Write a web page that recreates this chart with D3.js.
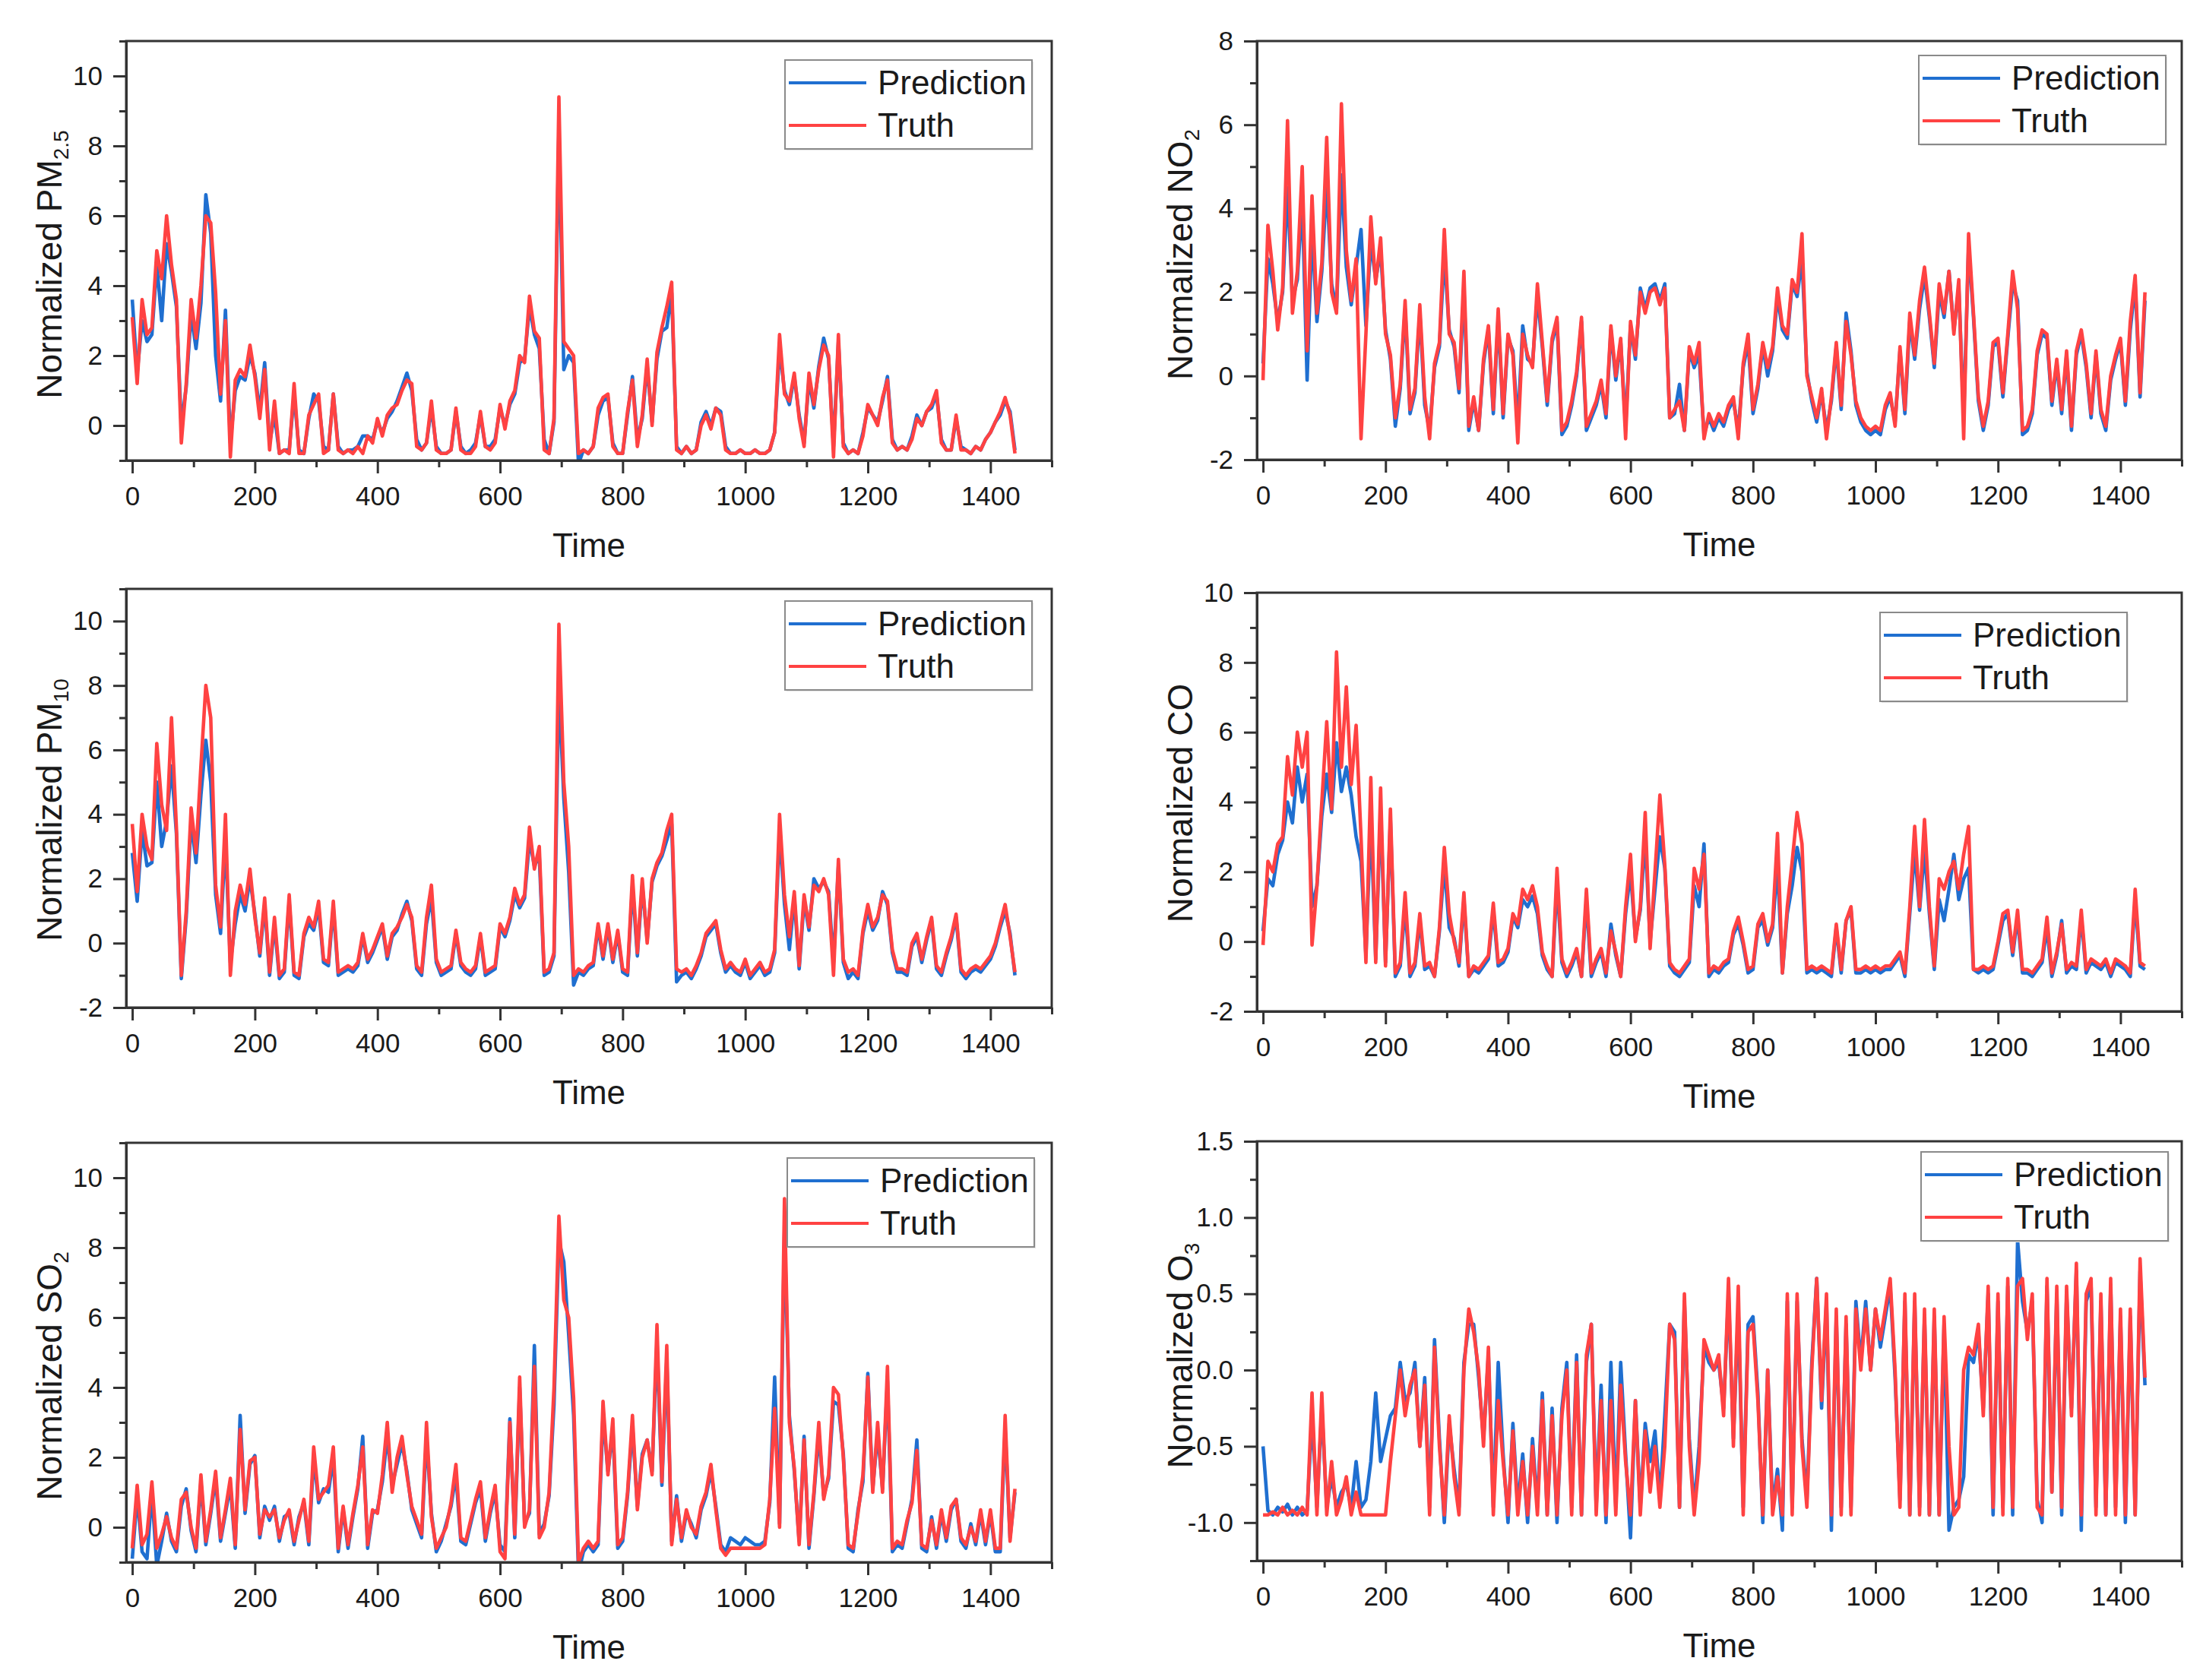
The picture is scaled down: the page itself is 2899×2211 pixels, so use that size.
<!DOCTYPE html>
<html><head><meta charset="utf-8">
<script src="https://cdn.jsdelivr.net/npm/d3@7/dist/d3.min.js"></script>
<style>html,body{margin:0;padding:0;background:#fff;} svg{display:block;}</style>
</head><body>
<svg id="chart" width="2899" height="2211"></svg>
<script>
// ---------- data (time step between samples) ----------
const STEP = 8;
const xMajorTicks = [0, 200, 400, 600, 800, 1000, 1200, 1400];
const xMinorTicks = [100, 300, 500, 700, 900, 1100, 1300, 1500];
const seriesNames = ["Prediction", "Truth"];

const pm25Truth = [
 3.1, 1.2, 3.6, 2.6, 2.8, 5.0, 4.2, 6.0, 4.6, 3.6,
 -0.5, 1.2, 3.6, 2.5, 4.0, 6.0, 5.8, 3.8, 0.9, 3.0,
 -0.9, 1.3, 1.6, 1.4, 2.3, 1.4, 0.2, 1.6, -0.7, 0.7,
 -0.8, -0.7, -0.8, 1.2, -0.8, -0.8, 0.3, 0.6, 0.9, -0.8,
 -0.7, 0.9, -0.7, -0.8, -0.7, -0.8, -0.6, -0.8, -0.3, -0.5,
 0.2, -0.3, 0.3, 0.5, 0.6, 1.0, 1.3, 1.2, -0.6, -0.7,
 -0.5, 0.7, -0.7, -0.8, -0.8, -0.7, 0.5, -0.7, -0.8, -0.8,
 -0.6, 0.4, -0.6, -0.7, -0.5, 0.6, -0.1, 0.7, 1.0, 2.0,
 1.8, 3.7, 2.7, 2.5, -0.7, -0.8, 0.2, 9.4, 2.4, 2.2,
 2.0, -0.8, -0.7, -0.8, -0.6, 0.5, 0.8, 0.9, -0.6, -0.8,
 -0.8, 0.4, 1.3, -0.6, 0.3, 1.9, 0.0, 2.1, 2.8, 3.4,
 4.1, -0.7, -0.8, -0.6, -0.8, -0.7, 0.0, 0.3, -0.1, 0.5,
 0.3, -0.7, -0.8, -0.8, -0.7, -0.8, -0.8, -0.7, -0.8, -0.8,
 -0.7, -0.2, 2.6, 0.9, 0.7, 1.5, 0.2, -0.6, 1.5, 0.6,
 1.6, 2.3, 2.0, -0.9, 2.6, -0.6, -0.8, -0.7, -0.8, -0.3,
 0.6, 0.3, 0.0, 0.8, 1.3, -0.5, -0.7, -0.6, -0.7, -0.4,
 0.2, 0.0, 0.4, 0.6, 1.0, -0.5, -0.7, -0.7, 0.3, -0.7,
 -0.7, -0.8, -0.6, -0.7, -0.4, -0.2, 0.1, 0.4, 0.8, 0.3,
 -0.8
];
const pm25Pred = [
 3.6, 1.5, 3.0, 2.4, 2.6, 4.6, 3.0, 5.2, 4.4, 3.4,
 0.0, 1.1, 3.2, 2.2, 3.5, 6.6, 5.5, 2.0, 0.7, 3.3,
 -0.5, 1.0, 1.4, 1.3, 2.0, 1.5, 0.4, 1.8, -0.5, 0.3,
 -0.8, -0.7, -0.7, 0.9, -0.7, -0.8, 0.2, 0.9, 0.7, -0.6,
 -0.7, 0.9, -0.6, -0.8, -0.7, -0.7, -0.6, -0.3, -0.3, -0.4,
 0.1, -0.2, 0.2, 0.4, 0.7, 1.1, 1.5, 1.0, -0.4, -0.7,
 -0.5, 0.5, -0.6, -0.8, -0.8, -0.7, 0.4, -0.6, -0.8, -0.7,
 -0.5, 0.3, -0.6, -0.6, -0.4, 0.5, 0.0, 0.6, 0.9, 1.8,
 1.9, 3.4, 2.6, 2.2, -0.4, -0.8, 0.1, 8.5, 1.6, 2.0,
 1.8, -1.1, -0.7, -0.8, -0.6, 0.3, 0.7, 0.8, -0.5, -0.8,
 -0.8, 0.3, 1.4, -0.4, 0.2, 1.7, 0.1, 1.9, 2.7, 2.8,
 3.8, -0.6, -0.8, -0.6, -0.8, -0.7, 0.1, 0.4, 0.0, 0.5,
 0.4, -0.6, -0.8, -0.8, -0.7, -0.8, -0.8, -0.7, -0.8, -0.8,
 -0.7, -0.2, 2.2, 1.0, 0.6, 1.4, 0.3, -0.5, 1.3, 0.5,
 1.7, 2.5, 1.9, -0.6, 2.4, -0.5, -0.8, -0.7, -0.8, -0.2,
 0.5, 0.3, 0.1, 0.7, 1.4, -0.4, -0.7, -0.6, -0.7, -0.3,
 0.3, 0.0, 0.4, 0.5, 0.9, -0.4, -0.7, -0.7, 0.2, -0.6,
 -0.7, -0.8, -0.6, -0.7, -0.4, -0.2, 0.1, 0.3, 0.7, 0.4,
 -0.7
];

const no2Truth = [
 -0.1, 3.6, 2.5, 1.1, 2.1, 6.1, 1.5, 2.5, 5.0, 0.6,
 4.3, 1.5, 2.7, 5.7, 2.0, 1.5, 6.5, 3.0, 1.8, 2.8,
 -1.5, 1.0, 3.8, 2.2, 3.3, 1.0, 0.5, -1.0, -0.2, 1.8,
 -0.8, -0.3, 1.7, -0.5, -1.5, 0.3, 0.8, 3.5, 1.0, 0.8,
 -0.3, 2.5, -1.2, -0.5, -1.3, 0.4, 1.2, -0.8, 1.6, -0.9,
 1.0, 0.5, -1.6, 1.0, 0.5, 0.2, 2.2, 0.8, -0.6, 0.9,
 1.4, -1.3, -1.1, -0.6, 0.1, 1.4, -1.2, -0.9, -0.6, -0.1,
 -0.9, 1.2, 0.0, 0.9, -1.5, 1.3, 0.5, 2.0, 1.5, 2.0,
 2.1, 1.7, 2.1, -1.0, -0.8, -0.6, -1.3, 0.7, 0.3, 0.8,
 -1.5, -0.9, -1.2, -0.9, -1.1, -0.7, -0.5, -1.5, 0.3, 1.0,
 -0.8, -0.2, 0.8, 0.2, 0.7, 2.1, 1.2, 1.0, 2.3, 2.0,
 3.4, 0.0, -0.5, -1.0, -0.3, -1.5, -0.5, 0.8, -0.7, 1.3,
 0.5, -0.6, -1.0, -1.2, -1.3, -1.2, -1.3, -0.7, -0.4, -1.2,
 0.7, -0.8, 1.5, 0.5, 1.8, 2.6, 1.5, 0.3, 2.2, 1.5,
 2.5, 1.0, 2.3, -1.5, 3.4, 1.5, -0.5, -1.2, -0.6, 0.8,
 0.9, -0.4, 1.0, 2.5, 1.6, -1.3, -1.2, -0.8, 0.6, 1.1,
 1.0, -0.6, 0.4, -0.8, 0.6, -1.2, 0.6, 1.1, 0.3, -0.9,
 0.6, -0.8, -1.2, 0.0, 0.5, 0.9, -0.6, 1.3, 2.4, -0.4,
 2.0
];
const no2Pred = [
 0.3, 2.8, 2.2, 1.3, 2.0, 4.5, 1.8, 2.3, 4.2, -0.1,
 3.5, 1.3, 2.5, 4.6, 2.2, 1.6, 4.8, 2.6, 1.7, 2.6,
 3.5, 1.2, 3.2, 2.3, 3.0, 1.1, 0.4, -1.2, -0.3, 1.6,
 -0.9, -0.4, 1.5, -0.7, -1.3, 0.2, 0.7, 2.9, 1.1, 0.7,
 -0.4, 2.1, -1.3, -0.6, -1.3, 0.3, 1.1, -0.9, 1.4, -1.0,
 0.9, 0.6, -1.2, 1.2, 0.4, 0.3, 1.9, 0.7, -0.7, 0.8,
 1.3, -1.4, -1.2, -0.7, 0.0, 1.3, -1.3, -1.0, -0.7, -0.2,
 -1.0, 1.1, -0.1, 0.8, -1.2, 1.2, 0.4, 2.1, 1.6, 2.1,
 2.2, 1.8, 2.2, -1.0, -0.9, -0.2, -1.3, 0.6, 0.2, 0.5,
 -1.4, -1.0, -1.3, -1.0, -1.2, -0.8, -0.6, -1.3, 0.2, 0.8,
 -0.9, -0.3, 0.7, 0.0, 0.6, 1.9, 1.1, 0.9, 2.2, 1.9,
 2.8, 0.1, -0.6, -1.1, -0.4, -1.3, -0.6, 0.7, -0.8, 1.5,
 0.6, -0.7, -1.1, -1.3, -1.4, -1.3, -1.4, -0.8, -0.5, -1.1,
 0.6, -0.9, 1.3, 0.4, 1.6, 2.4, 1.4, 0.2, 2.0, 1.4,
 2.5, 1.1, 2.1, -1.0, 3.1, 1.4, -0.6, -1.3, -0.7, 0.7,
 0.8, -0.5, 0.9, 2.2, 1.8, -1.4, -1.3, -0.9, 0.5, 1.0,
 0.9, -0.7, 0.3, -0.9, 0.5, -1.3, 0.5, 1.0, 0.2, -1.0,
 0.5, -0.9, -1.3, -0.1, 0.4, 0.8, -0.7, 1.1, 2.2, -0.5,
 1.8
];

const pm10Truth = [
 3.7, 1.6, 4.0, 3.0, 2.6, 6.2, 4.3, 3.5, 7.0, 3.6,
 -1.0, 1.0, 4.2, 2.8, 5.5, 8.0, 7.0, 1.8, 0.5, 4.0,
 -1.0, 1.0, 1.8, 1.2, 2.3, 0.8, -0.3, 1.4, -0.9, 0.8,
 -1.0, -0.8, 1.5, -0.9, -1.0, 0.3, 0.8, 0.5, 1.3, -0.5,
 -0.6, 1.3, -0.9, -0.8, -0.7, -0.8, -0.6, 0.3, -0.5, -0.2,
 0.2, 0.6, -0.4, 0.3, 0.5, 0.8, 1.2, 0.8, -0.7, -0.9,
 0.8, 1.8, -0.5, -0.9, -0.8, -0.7, 0.4, -0.6, -0.8, -0.9,
 -0.7, 0.3, -0.9, -0.8, -0.7, 0.6, 0.3, 0.8, 1.7, 1.2,
 1.5, 3.6, 2.3, 3.0, -0.9, -0.8, -0.3, 9.9, 5.0, 3.0,
 -1.0, -0.8, -0.9, -0.7, -0.6, 0.6, -0.4, 0.6, -0.5, 0.4,
 -0.8, -0.9, 2.1, -0.3, 2.0, 0.0, 2.0, 2.5, 2.8, 3.5,
 4.0, -0.8, -0.9, -0.8, -1.0, -0.7, -0.3, 0.3, 0.5, 0.7,
 -0.2, -0.8, -0.6, -0.8, -0.9, -0.5, -1.0, -0.8, -0.6, -0.9,
 -0.8, -0.2, 4.0, 1.5, 0.2, 1.6, -0.7, 1.5, 0.5, 1.8,
 1.6, 2.0, 1.5, -1.0, 2.6, -0.5, -0.9, -0.8, -1.0, 0.4,
 1.2, 0.5, 0.8, 1.5, 1.3, -0.2, -0.8, -0.8, -0.9, 0.0,
 0.3, -0.5, 0.2, 0.8, -0.7, -0.9, -0.3, 0.2, 0.9, -0.8,
 -1.0, -0.8, -0.7, -0.8, -0.6, -0.4, 0.0, 0.6, 1.2, 0.2,
 -0.9
];
const pm10Pred = [
 2.8, 1.3, 3.5, 2.4, 2.5, 5.0, 3.0, 3.8, 5.5, 3.4,
 -1.1, 0.8, 3.8, 2.5, 4.6, 6.3, 5.0, 1.5, 0.3, 3.2,
 -0.6, 0.6, 1.5, 1.0, 2.0, 0.9, -0.4, 1.2, -1.0, 0.6,
 -1.1, -0.9, 1.3, -1.0, -1.1, 0.2, 0.6, 0.4, 1.1, -0.6,
 -0.7, 1.1, -1.0, -0.9, -0.8, -0.9, -0.7, 0.2, -0.6, -0.3,
 0.1, 0.5, -0.5, 0.2, 0.4, 0.9, 1.3, 0.7, -0.8, -1.0,
 0.6, 1.4, -0.6, -1.0, -0.9, -0.8, 0.3, -0.7, -0.9, -1.0,
 -0.8, 0.2, -1.0, -0.9, -0.8, 0.5, 0.2, 0.7, 1.5, 1.1,
 1.4, 3.2, 2.4, 2.7, -1.0, -0.9, -0.4, 8.0, 4.5, 2.2,
 -1.3, -0.9, -1.0, -0.8, -0.7, 0.5, -0.5, 0.5, -0.6, 0.3,
 -0.9, -1.0, 1.8, -0.4, 1.8, 0.1, 1.9, 2.4, 2.7, 3.2,
 3.7, -1.2, -1.0, -0.9, -1.1, -0.8, -0.4, 0.2, 0.4, 0.6,
 -0.3, -0.9, -0.7, -0.9, -1.0, -0.6, -1.1, -0.9, -0.7, -1.0,
 -0.9, -0.3, 3.5, 1.2, -0.2, 1.4, -0.8, 1.3, 0.4, 2.0,
 1.7, 1.9, 1.6, -0.6, 2.4, -0.6, -1.1, -0.9, -1.1, 0.3,
 1.0, 0.4, 0.7, 1.6, 1.2, -0.3, -0.9, -0.9, -1.0, -0.1,
 0.2, -0.6, 0.1, 0.7, -0.8, -1.0, -0.4, 0.1, 0.8, -0.9,
 -1.1, -0.9, -0.8, -0.9, -0.7, -0.5, -0.1, 0.5, 1.0, 0.3,
 -1.0
];

const coTruth = [
 -0.1, 2.3, 2.0, 2.8, 3.0, 5.3, 4.2, 6.0, 5.0, 6.0,
 -0.1, 1.6, 4.0, 6.3, 3.8, 8.3, 5.0, 7.3, 4.5, 6.2,
 3.0, -0.6, 4.7, -0.6, 4.4, -0.7, 3.8, -0.9, -0.6, 1.4,
 -0.9, -0.6, 0.8, -0.7, -0.6, -1.0, 0.4, 2.7, 0.8, 0.0,
 -0.6, 1.4, -1.0, -0.7, -0.8, -0.6, -0.4, 1.1, -0.6, -0.5,
 -0.2, 0.8, 0.5, 1.5, 1.2, 1.6, 1.0, -0.3, -0.7, -1.0,
 2.1, -0.5, -0.9, -0.6, -0.2, -1.0, 1.5, -0.9, -0.5, -0.2,
 -0.9, 0.3, -0.3, -1.0, 1.0, 2.5, 0.0, 1.0, 3.7, -0.2,
 2.0, 4.2, 2.2, -0.6, -0.8, -0.9, -0.7, -0.5, 2.1, 1.5,
 2.5, -0.9, -0.7, -0.8, -0.6, -0.5, 0.3, 0.7, 0.0, -0.8,
 -0.7, 0.5, 0.8, 0.0, 0.5, 3.1, -0.9, 1.0, 2.3, 3.7,
 2.8, -0.8, -0.7, -0.8, -0.7, -0.8, -0.9, 0.5, -0.8, 0.6,
 1.0, -0.8, -0.8, -0.7, -0.8, -0.7, -0.8, -0.7, -0.7, -0.5,
 -0.3, -0.9, 1.0, 3.3, 1.0, 3.5, 1.0, -0.7, 1.8, 1.5,
 2.0, 2.3, 1.5, 2.5, 3.3, -0.8, -0.8, -0.7, -0.8, -0.7,
 0.0, 0.8, 0.9, -0.3, 0.9, -0.8, -0.8, -0.9, -0.7, -0.5,
 0.7, -0.9, -0.3, 0.5, -0.8, -0.6, -0.7, 0.9, -0.8, -0.5,
 -0.6, -0.7, -0.5, -0.9, -0.5, -0.6, -0.7, -0.9, 1.5, -0.6,
 -0.7
];
const coPred = [
 0.3, 1.8, 1.6, 2.5, 2.9, 4.0, 3.4, 5.0, 4.0, 4.8,
 1.0, 1.6, 3.6, 4.8, 3.7, 5.7, 4.3, 5.0, 4.2, 3.0,
 2.3, -0.4, 3.5, -0.5, 3.8, -0.6, 3.5, -1.0, -0.7, 1.0,
 -1.0, -0.7, 0.6, -0.8, -0.7, -1.0, 0.3, 2.2, 0.4, 0.1,
 -0.7, 1.2, -1.0, -0.8, -0.9, -0.7, -0.5, 0.9, -0.7, -0.6,
 -0.3, 0.7, 0.4, 1.2, 1.0, 1.3, 0.8, -0.4, -0.8, -1.0,
 1.7, -0.6, -1.0, -0.7, -0.3, -1.0, 1.2, -1.0, -0.6, -0.3,
 -1.0, 0.5, -0.4, -1.0, 0.8, 2.0, 0.1, 0.9, 3.0, 0.0,
 1.5, 3.0, 2.1, -0.7, -0.9, -1.0, -0.8, -0.6, 1.6, 1.0,
 2.8, -1.0, -0.8, -0.9, -0.7, -0.6, 0.2, 0.5, -0.1, -0.9,
 -0.8, 0.4, 0.6, -0.1, 0.4, 2.2, -0.9, 0.8, 1.6, 2.7,
 2.0, -0.9, -0.8, -0.9, -0.8, -0.9, -1.0, 0.4, -0.9, 0.6,
 0.9, -0.9, -0.9, -0.8, -0.9, -0.8, -0.9, -0.8, -0.8, -0.6,
 -0.4, -1.0, 0.8, 2.6, 0.9, 2.6, 0.8, -0.8, 1.2, 0.6,
 1.5, 2.5, 1.2, 1.8, 2.1, -0.8, -0.9, -0.8, -0.9, -0.8,
 -0.1, 0.6, 0.8, -0.4, 0.7, -0.9, -0.9, -1.0, -0.8, -0.6,
 0.4, -1.0, -0.4, 0.6, -0.9, -0.7, -0.8, 0.7, -0.9, -0.6,
 -0.7, -0.8, -0.6, -1.0, -0.6, -0.7, -0.8, -1.0, 1.2, -0.7,
 -0.8
];

const so2Truth = [
 -0.6, 1.2, -0.5, -0.2, 1.3, -0.6, -0.2, 0.3, -0.3, -0.6,
 0.8, 1.0, 0.0, -0.6, 1.5, -0.4, 0.5, 1.6, -0.3, 0.5,
 1.4, -0.5, 2.8, 0.5, 1.9, 2.0, -0.2, 0.5, 0.3, 0.5,
 -0.3, 0.2, 0.5, -0.4, 0.2, 0.8, -0.4, 2.3, 0.8, 1.0,
 1.2, 2.3, -0.6, 0.6, -0.5, 0.4, 1.2, 2.3, -0.5, 0.5,
 0.4, 1.5, 3.0, 1.0, 2.0, 2.6, 1.5, 0.6, 0.2, -0.2,
 3.0, 0.3, -0.6, -0.3, 0.0, 0.7, 1.8, -0.3, -0.4, 0.2,
 0.8, 1.3, -0.3, 0.5, 1.2, -0.7, -0.9, 3.0, -0.2, 4.3,
 0.0, 0.5, 4.6, -0.3, 0.0, 1.0, 4.0, 8.9, 6.5, 6.0,
 3.7, -1.0, -0.6, -0.4, -0.6, -0.4, 3.6, 1.5, 3.1, -0.5,
 -0.3, 1.0, 3.2, 0.5, 2.0, 2.5, 1.5, 5.8, 1.3, 5.2,
 -0.5, 0.8, -0.3, 0.5, 0.0, -0.2, 0.6, 1.0, 1.8, 0.5,
 -0.6, -0.8, -0.6, -0.6, -0.6, -0.6, -0.6, -0.6, -0.6, -0.5,
 0.8, 3.4, 0.0, 9.4, 3.0, 1.7, -0.5, 2.5, -0.5, 1.0,
 3.0, 0.8, 1.5, 4.0, 3.8, 2.0, -0.5, -0.6, 0.4, 1.5,
 4.3, 1.0, 3.0, 1.0, 4.6, -0.6, -0.4, -0.5, 0.2, 0.7,
 2.2, -0.5, -0.6, 0.2, -0.5, 0.5, -0.3, 0.6, 0.8, -0.3,
 -0.5, 0.0, -0.4, 0.5, -0.4, 0.5, -0.6, -0.6, 3.2, -0.4,
 1.1
];
const so2Pred = [
 -0.9, 0.9, -0.7, -0.9, 1.0, -1.1, -0.4, 0.4, -0.4, -0.7,
 0.6, 1.1, -0.1, -0.7, 1.3, -0.5, 0.4, 1.4, -0.4, 0.4,
 1.2, -0.6, 3.2, 0.4, 1.8, 2.05, -0.3, 0.6, 0.2, 0.6,
 -0.4, 0.3, 0.4, -0.5, 0.3, 0.7, -0.5, 2.0, 0.7, 1.1,
 1.0, 2.0, -0.7, 0.5, -0.6, 0.3, 1.1, 2.6, -0.6, 0.4,
 0.5, 1.3, 2.6, 1.2, 1.8, 2.4, 1.6, 0.5, 0.1, -0.3,
 2.6, 0.4, -0.7, -0.4, 0.1, 0.6, 1.5, -0.4, -0.5, 0.1,
 0.7, 1.1, -0.4, 0.4, 1.0, -0.5, -0.7, 3.1, -0.3, 4.0,
 0.1, 0.4, 5.2, -0.2, 0.1, 0.9, 3.5, 8.2, 7.6, 5.5,
 3.2, -1.3, -0.7, -0.5, -0.7, -0.5, 3.2, 1.6, 2.8, -0.6,
 -0.4, 0.9, 2.9, 0.6, 2.1, 2.5, 1.6, 5.3, 1.2, 4.8,
 -0.4, 0.9, -0.4, 0.4, 0.1, -0.3, 0.5, 0.9, 1.6, 0.6,
 -0.5, -0.7, -0.3, -0.4, -0.5, -0.3, -0.4, -0.5, -0.5, -0.4,
 0.7, 4.3, 0.1, 8.5, 3.2, 1.6, -0.4, 2.6, -0.6, 0.9,
 2.7, 0.9, 1.4, 3.6, 3.5, 2.1, -0.6, -0.7, 0.5, 1.3,
 4.4, 1.1, 2.7, 1.1, 4.2, -0.7, -0.5, -0.6, 0.1, 0.8,
 2.5, -0.6, -0.7, 0.3, -0.6, 0.4, -0.4, 0.5, 0.8, -0.4,
 -0.6, 0.1, -0.5, 0.4, -0.5, 0.4, -0.7, -0.7, 2.8, -0.3,
 1.0
];

const o3Truth = [
 -0.95, -0.95, -0.93, -0.95, -0.9, -0.95, -0.92, -0.95, -0.9, -0.95,
 -0.15, -0.95, -0.15, -0.95, -0.6, -0.95, -0.85, -0.7, -0.95, -0.8,
 -0.95, -0.95, -0.95, -0.95, -0.95, -0.95, -0.6, -0.3, 0.0, -0.3,
 -0.1, 0.0, -0.5, -0.1, -0.95, 0.15, -0.5, -0.95, -0.3, -0.7,
 -0.95, 0.0, 0.4, 0.25, 0.0, -0.5, 0.15, -0.95, -0.2, -0.6,
 -0.95, -0.4, -0.95, -0.6, -0.95, -0.5, -0.95, -0.2, -0.95, -0.3,
 -0.95, -0.3, 0.0, -0.95, 0.05, -0.95, 0.1, 0.3, -0.95, -0.2,
 -0.95, -0.2, -0.95, -0.1, -0.6, -0.95, -0.2, -0.95, -0.4, -0.8,
 -0.5, -0.9, -0.5, 0.3, 0.2, -0.9, 0.5, -0.5, -0.95, -0.6,
 0.2, 0.1, 0.0, 0.1, -0.3, 0.6, -0.5, 0.55, -0.95, 0.25,
 0.3, -0.2, -0.95, 0.0, -0.95, -0.7, -0.95, 0.5, -0.95, 0.5,
 -0.5, -0.9, 0.0, 0.6, -0.2, 0.5, -0.95, 0.4, -0.95, 0.35,
 -0.95, 0.4, 0.0, 0.4, 0.0, 0.4, 0.2, 0.4, 0.6, 0.0,
 -0.9, 0.5, -0.95, 0.5, -0.95, 0.4, -0.95, 0.4, -0.95, 0.35,
 -0.5, -0.95, -0.9, 0.0, 0.15, 0.1, 0.3, -0.3, 0.55, -0.9,
 0.5, -0.95, 0.6, -0.9, 0.55, 0.6, 0.2, 0.5, -0.9, -0.95,
 0.6, -0.8, 0.55, -0.9, 0.55, -0.3, 0.7, -0.95, 0.5, 0.6,
 -0.95, 0.5, -0.95, 0.6, -0.95, 0.4, -0.95, 0.4, -0.95, 0.73,
 -0.05
];
const o3Pred = [
 -0.5, -0.92, -0.95, -0.9, -0.93, -0.88, -0.95, -0.9, -0.95, -0.92,
 -0.3, -0.9, -0.25, -0.9, -0.7, -0.9, -0.8, -0.75, -0.9, -0.6,
 -0.9, -0.85, -0.6, -0.15, -0.6, -0.45, -0.3, -0.25, 0.05, -0.2,
 -0.15, 0.05, -0.5, -0.05, -0.9, 0.2, -0.45, -1.0, -0.35, -0.65,
 -0.9, 0.05, 0.3, 0.3, -0.05, -0.45, 0.1, -0.9, 0.05, -0.55,
 -1.0, -0.35, -0.9, -0.55, -1.0, -0.45, -0.9, -0.15, -0.95, -0.25,
 -1.0, -0.25, 0.05, -0.9, 0.1, -0.95, 0.05, 0.3, -0.9, -0.1,
 -1.0, 0.05, -0.9, 0.05, -0.55, -1.1, -0.2, -0.9, -0.35, -0.6,
 -0.4, -0.85, -0.3, 0.3, 0.25, -0.9, 0.45, -0.45, -0.9, -0.5,
 0.15, 0.05, 0.0, 0.05, -0.25, 0.5, -0.45, 0.4, -0.9, 0.3,
 0.35, -0.15, -1.0, 0.0, -0.9, -0.65, -1.05, 0.45, -0.9, 0.45,
 -0.45, -0.85, 0.05, 0.6, -0.25, 0.45, -1.05, 0.35, -0.9, 0.3,
 -0.9, 0.45, 0.05, 0.45, 0.0, 0.4, 0.15, 0.35, 0.55, -0.05,
 -0.85, 0.45, -0.95, 0.45, -0.9, 0.35, -0.95, 0.35, -0.95, 0.3,
 -1.05, -0.9, -0.85, -0.7, 0.1, 0.05, 0.25, -0.25, 0.5, -0.95,
 0.45, -0.9, 0.55, -0.95, 0.85, 0.45, 0.25, 0.45, -0.85, -1.0,
 0.55, -0.8, 0.5, -0.95, 0.5, -0.25, 0.65, -1.05, 0.45, 0.55,
 -0.9, 0.45, -0.95, 0.55, -0.9, 0.35, -1.0, 0.35, -0.95, 0.65,
 -0.1
];

// y tick values per panel
const pm25YTicks = [0, 2, 4, 6, 8, 10];
const no2YTicks  = [-2, 0, 2, 4, 6, 8];
const pm10YTicks = [-2, 0, 2, 4, 6, 8, 10];
const coYTicks   = [-2, 0, 2, 4, 6, 8, 10];
const so2YTicks  = [0, 2, 4, 6, 8, 10];
const o3YTicks   = [-1.0, -0.5, 0.0, 0.5, 1.0, 1.5];
const pm25YMinor = [-1, 1, 3, 5, 7, 9, 11];
const no2YMinor  = [-1, 1, 3, 5, 7];
const pm10YMinor = [-1, 1, 3, 5, 7, 9, 11];
const coYMinor   = [-1, 1, 3, 5, 7, 9];
const so2YMinor  = [-1, 1, 3, 5, 7, 9, 11];
const o3YMinor   = [-1.25, -0.75, -0.25, 0.25, 0.75, 1.25];

// ---------- layout ----------
const COLORS = { pred: "#1f6fd0", truth: "#ff4242" };
const FONT = "'Liberation Sans', Arial, Helvetica, sans-serif";
const panels = [
  { label: "PM", sub: "2.5", truth: pm25Truth, pred: pm25Pred, yDomain: [-1, 11], yTicks: pm25YTicks, yMinor: pm25YMinor, dec: 0,
    box: { l: 166, r: 1384, t: 54, b: 606 }, legend: { x: 1033, y: 79 }, titleY: 348 },
  { label: "NO", sub: "2", truth: no2Truth, pred: no2Pred, yDomain: [-2, 8], yTicks: no2YTicks, yMinor: no2YMinor, dec: 0,
    box: { l: 1654, r: 2871, t: 54, b: 605 }, legend: { x: 2525, y: 73 }, titleY: 335 },
  { label: "PM", sub: "10", truth: pm10Truth, pred: pm10Pred, yDomain: [-2, 11], yTicks: pm10YTicks, yMinor: pm10YMinor, dec: 0,
    box: { l: 166, r: 1384, t: 775, b: 1326 }, legend: { x: 1033, y: 791 }, titleY: 1066 },
  { label: "CO", sub: "", truth: coTruth, pred: coPred, yDomain: [-2, 10], yTicks: coYTicks, yMinor: coYMinor, dec: 0,
    box: { l: 1654, r: 2871, t: 780, b: 1331 }, legend: { x: 2474, y: 806 }, titleY: 1057 },
  { label: "SO", sub: "2", truth: so2Truth, pred: so2Pred, yDomain: [-1, 11], yTicks: so2YTicks, yMinor: so2YMinor, dec: 0,
    box: { l: 166, r: 1384, t: 1504, b: 2056 }, legend: { x: 1036, y: 1524 }, titleY: 1811 },
  { label: "O", sub: "3", truth: o3Truth, pred: o3Pred, yDomain: [-1.25, 1.5], yTicks: o3YTicks, yMinor: o3YMinor, dec: 1,
    box: { l: 1654, r: 2871, t: 1502, b: 2054 }, legend: { x: 2528, y: 1516 }, titleY: 1784 }
];

const svg = d3.select("#chart");
svg.append("rect").attr("width", 2899).attr("height", 2211).attr("fill", "#fff");

panels.forEach((p, i) => {
  const B = p.box;
  const x = d3.scaleLinear().domain([-10, 1500]).range([B.l, B.r]);
  const y = d3.scaleLinear().domain(p.yDomain).range([B.b, B.t]);
  const g = svg.append("g");

  const clipId = "clip" + i;
  g.append("clipPath").attr("id", clipId).append("rect")
    .attr("x", B.l).attr("y", B.t).attr("width", B.r - B.l).attr("height", B.b - B.t);

  const line = d3.line().x((d, k) => x(k * STEP)).y(d => y(d));
  const plot = g.append("g").attr("clip-path", `url(#${clipId})`);
  plot.append("path").datum(p.pred).attr("d", line).attr("fill", "none")
    .attr("stroke", COLORS.pred).attr("stroke-width", 4.6).attr("stroke-linejoin", "round");
  plot.append("path").datum(p.truth).attr("d", line).attr("fill", "none")
    .attr("stroke", COLORS.truth).attr("stroke-width", 4.6).attr("stroke-linejoin", "round");

  // frame
  g.append("rect").attr("x", B.l).attr("y", B.t).attr("width", B.r - B.l).attr("height", B.b - B.t)
    .attr("fill", "none").attr("stroke", "#333").attr("stroke-width", 3);

  const fmt = v => (p.dec ? v.toFixed(1) : String(v)).replace("\u2212", "-");

  // axes
  const xMaj = g.append("g").attr("transform", `translate(0,${B.b})`)
    .call(d3.axisBottom(x).tickValues(xMajorTicks).tickSize(17).tickSizeOuter(0).tickPadding(17).tickFormat(d => String(d)));
  const xMin = g.append("g").attr("transform", `translate(0,${B.b})`)
    .call(d3.axisBottom(x).tickValues(xMinorTicks).tickSize(9).tickSizeOuter(0).tickFormat(""));
  const yMaj = g.append("g").attr("transform", `translate(${B.l},0)`)
    .call(d3.axisLeft(y).tickValues(p.yTicks).tickSize(17).tickSizeOuter(0).tickPadding(14).tickFormat(fmt));
  const yMin = g.append("g").attr("transform", `translate(${B.l},0)`)
    .call(d3.axisLeft(y).tickValues(p.yMinor).tickSize(9).tickSizeOuter(0).tickFormat(""));
  [xMaj, xMin, yMaj, yMin].forEach(a => {
    a.select(".domain").attr("stroke", "#333").attr("stroke-width", 3);
    a.selectAll(".tick line").attr("stroke", "#333").attr("stroke-width", 3);
    a.selectAll(".tick text").attr("font-family", FONT).attr("font-size", 35).attr("fill", "#1a1a1a");
  });

  // axis titles
  g.append("text").attr("x", (B.l + B.r) / 2).attr("y", B.b + 127).attr("text-anchor", "middle")
    .attr("font-family", FONT).attr("font-size", 44).attr("fill", "#1a1a1a").text("Time");

  const yt = g.append("text").attr("transform", `translate(${B.l - 85},${p.titleY}) rotate(-90)`)
    .attr("text-anchor", "middle").attr("font-family", FONT).attr("font-size", 46).attr("fill", "#1a1a1a");
  yt.append("tspan").text("Normalized " + p.label);
  if (p.sub) yt.append("tspan").attr("font-size", 28).attr("dy", 9).text(p.sub);

  // legend
  const L = p.legend;
  const lg = g.append("g").attr("transform", `translate(${L.x},${L.y})`);
  lg.append("rect").attr("x", 2).attr("y", 2).attr("width", 325).attr("height", 117).attr("fill", "#e6e6e6");
  lg.append("rect").attr("width", 325).attr("height", 117).attr("fill", "#fff").attr("stroke", "#8a8a8a").attr("stroke-width", 2);
  [["pred", 30, 45], ["truth", 86, 101]].forEach((e, k) => {
    lg.append("line").attr("x1", 5).attr("x2", 107).attr("y1", e[1]).attr("y2", e[1])
      .attr("stroke", COLORS[e[0]]).attr("stroke-width", 4);
    lg.append("text").attr("x", 122).attr("y", e[2]).attr("font-family", FONT).attr("font-size", 44)
      .attr("fill", "#1a1a1a").text(seriesNames[k]);
  });
});
</script>
</body></html>
